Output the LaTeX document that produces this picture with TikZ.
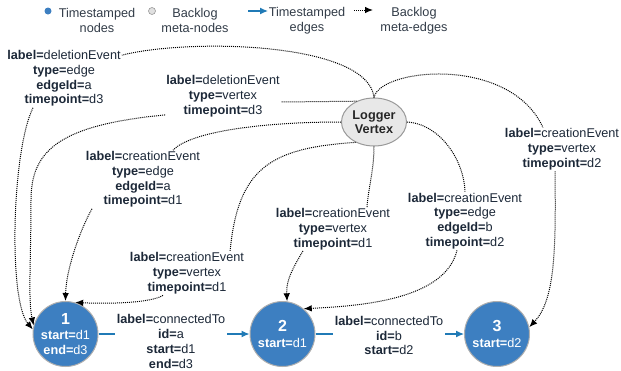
\documentclass[tikz,border=0pt]{standalone}
\usepackage{fontspec}
\setmainfont{Liberation Sans}
\usetikzlibrary{arrows.meta,shapes.geometric}
\definecolor{nodeblue}{RGB}{61,127,193}
\definecolor{txtdark}{RGB}{28,40,56}
\definecolor{legtxt}{RGB}{50,60,72}
\definecolor{edgeblue}{RGB}{32,122,182}
\definecolor{ringgray}{RGB}{175,175,175}
\newcommand{\kv}[2]{\textbf{#1=}#2}
\begin{document}
\begin{tikzpicture}[x=1pt,y=-1pt,
  every node/.style={font=\fontsize{12.7}{14.8}\selectfont},
  meta/.style={align=center,text=txtdark,inner sep=1pt},
  legtext/.style={align=center,text=legtxt,inner sep=1pt,font=\fontsize{12.7}{15}\selectfont},
  ts/.style={circle,fill=nodeblue,draw=ringgray,line width=1pt,minimum size=65pt,inner sep=0pt,text=white,align=center},
  logger/.style={ellipse,fill=black!9,draw=black!40,line width=1pt,minimum width=65pt,minimum height=48pt,inner sep=0pt,align=center,text=black!85,font=\fontsize{12.7}{13.5}\selectfont\bfseries},
  metaline/.style={line width=1pt,dash pattern=on 1pt off 1pt},
  metaedge/.style={metaline,-{Latex[length=8pt,width=6.5pt]}},
  tsedge/.style={draw=edgeblue,line width=1.2pt,-{Latex[length=8pt,width=7pt]}}
]
\useasboundingbox (0,0) rectangle (621,370);

% legend
\node[circle,fill=nodeblue,minimum size=7pt,inner sep=0pt] (ldot1) at (48,11) {};
\node[legtext] (ltx1) at (97,20.5) {Timestamped\\nodes};
\node[circle,fill=black!12,draw=black!40,line width=0.6pt,minimum size=7pt,inner sep=0pt] (ldot2) at (152,11) {};
\node[legtext] (ltx2) at (195,20.5) {Backlog\\meta-nodes};
\coordinate (la1s) at (248,11);
\coordinate (la1e) at (268,11);
\draw[tsedge] (la1s) -- (la1e);
\node[legtext] (ltx3) at (307,20.5) {Timestamped\\edges};
\coordinate (la2s) at (354,10);
\coordinate (la2e) at (373,10);
\draw[metaedge] (la2s) -- (la2e);
\node[legtext] (ltx4) at (414,20.5) {Backlog\\meta-edges};

% main nodes
\node[logger] (lg) at (374,122) {Logger\\Vertex};
\node[ts] (n1) at (65.5,334) {{\fontsize{16}{17}\selectfont\bfseries 1}\\[1pt]\kv{start}{d1}\\\kv{end}{d3}};
\node[ts] (n2) at (282.5,334) {{\fontsize{16}{17}\selectfont\bfseries 2}\\[1pt]\kv{start}{d1}};
\node[ts] (n3) at (497,334) {{\fontsize{16}{17}\selectfont\bfseries 3}\\[1pt]\kv{start}{d2}};

% timestamped edges
\draw[tsedge] (n1) -- (n2);
\draw[tsedge] (n2) -- (n3);
\node[meta,fill=white,inner sep=2pt] (L1) at (171,341.5) {\kv{label}{connectedTo}\\\kv{id}{a}\\\kv{start}{d1}\\\kv{end}{d3}};
\node[meta,fill=white,inner sep=2pt] (L2) at (389,335.5) {\kv{label}{connectedTo}\\\kv{id}{b}\\\kv{start}{d2}};

% meta labels
\node[meta] (lA) at (64,78.5) {\kv{label}{deletionEvent}\\\kv{type}{edge}\\\kv{edgeId}{a}\\\kv{timepoint}{d3}};
\node[meta] (lB) at (223,96) {\kv{label}{deletionEvent}\\\kv{type}{vertex}\\\kv{timepoint}{d3}};
\node[meta] (lC) at (143,179.5) {\kv{label}{creationEvent}\\\kv{type}{edge}\\\kv{edgeId}{a}\\\kv{timepoint}{d1}};
\node[meta] (lD) at (562,149.5) {\kv{label}{creationEvent}\\\kv{type}{vertex}\\\kv{timepoint}{d2}};
\node[meta] (lE) at (333,229) {\kv{label}{creationEvent}\\\kv{type}{vertex}\\\kv{timepoint}{d1}};
\node[meta] (lF) at (465,221) {\kv{label}{creationEvent}\\\kv{type}{edge}\\\kv{edgeId}{b}\\\kv{timepoint}{d2}};
\node[meta] (lG) at (187,273.5) {\kv{label}{creationEvent}\\\kv{type}{vertex}\\\kv{timepoint}{d1}};

% meta edges
% A
\draw[metaline] (lg.north) .. controls (368,42) and (190,38) .. ([yshift=-6pt]lA.north east);
\draw[metaedge] ([xshift=-31pt]lA.south) .. controls (12,150) and (8,300) .. (n1.172);
% B
\draw[metaline] (lg.130) -- ([yshift=-6pt]lB.east);
\draw[metaedge] ([yshift=3pt]lB.south west) .. controls (60,125) and (31,150) .. (31,200) .. controls (31,260) and (28,300) .. (n1.165);
% C
\draw[metaline] (lg.west) .. controls (260,122) and (190,132) .. ([xshift=30pt]lC.north);
\draw[metaedge] ([xshift=-51pt]lC.south) .. controls (80,230) and (66,270) .. (n1.north);
% G
\draw[metaline] (lg.228) .. controls (270,148) and (238,168) .. ([xshift=43pt]lG.north);
\draw[metaedge] ([xshift=-24pt]lG.south) .. controls (150,303) and (110,304) .. (n1.73);
% E
\draw[metaline] (lg.south) .. controls (374,170) and (368,190) .. ([xshift=34pt]lE.north);
\draw[metaedge] ([xshift=-30pt]lE.south) .. controls (293,268) and (286,280) .. (n2.82);
% F
\draw[metaline] (lg.east) .. controls (440,124) and (464,160) .. (lF.north);
\draw[metaedge] ([xshift=-8pt]lF.south) .. controls (445,300) and (360,306) .. (n2.50);
% D
\draw[metaline] (lg.north) .. controls (380,68) and (510,55) .. ([xshift=-19pt]lD.north);
\draw[metaedge] ([xshift=-7pt]lD.south) .. controls (556,250) and (555,300) .. (n3.12);
\end{tikzpicture}
\end{document}
